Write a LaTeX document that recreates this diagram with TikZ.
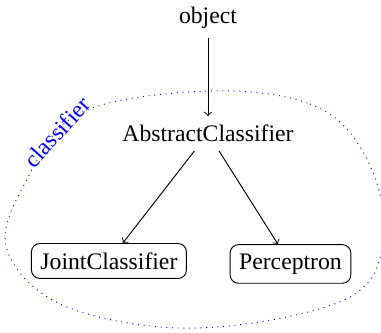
\documentclass[tikz,border=0pt]{standalone}
\usepackage{fontspec}
\setmainfont{Liberation Serif}
\usetikzlibrary{positioning}

\begin{document}
\begin{tikzpicture}[
    x=0.4219pt, y=-0.4219pt,
    cname/.style={inner sep=3.6pt},
    cbox/.style={draw, rounded corners=3.5pt, inner sep=3.8pt},
    iedge/.style={->, draw=black},
    pkgline/.style={draw=blue, dotted}
]
\useasboundingbox (0,0) rectangle (381,333);

% Classes
\node[cname, anchor=base] (abstract) at (208,141.7) {AbstractClassifier};
\node[cname, above=49.7pt of abstract.base, anchor=base] (object) {object};
\node[cbox, below left=53.8pt and 41.8pt of abstract.base, anchor=base] (joint) {JointClassifier};
\node[cbox, below right=53.8pt and 34.8pt of abstract.base, anchor=base] (perceptron) {Perceptron};

% Inheritance
\draw[iedge] (object) -- (abstract);
\draw[iedge] (abstract) -- (joint);
\draw[iedge] (abstract) -- (perceptron);

% Package outline
\draw[pkgline] plot[smooth cycle, tension=0.6] coordinates {
    (208,91) (310,104) (362,150) (384,228) (350,297) (200,328)
    (67,307) (7,250) (25,183) (80,113)};
\node[text=blue, rotate=48, inner sep=0] (pkgname) at (57,132) {classifier};

\end{tikzpicture}
\end{document}
